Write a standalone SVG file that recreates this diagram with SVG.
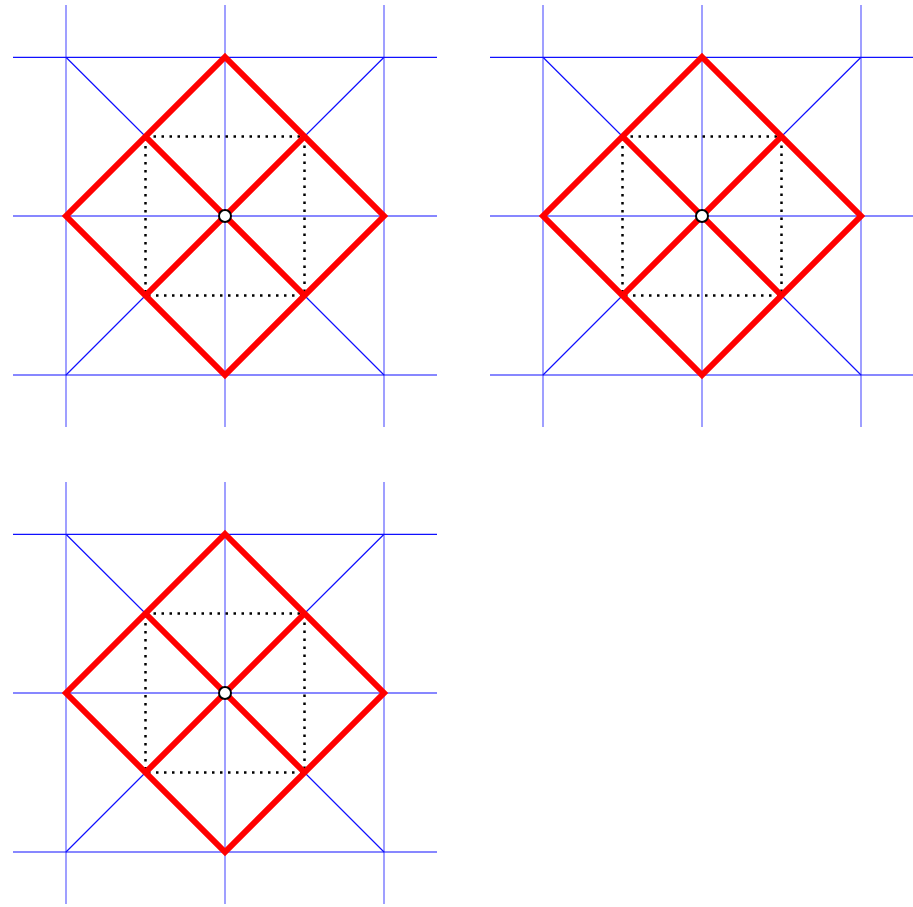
<svg xmlns="http://www.w3.org/2000/svg" width="913" height="907" viewBox="0 0 913 907">
<style>
.v{stroke:#8080ff;stroke-width:1.5;fill:none}
.h{stroke:#1010ff;stroke-width:1.2;fill:none}
.d{stroke:#1010ff;stroke-width:1.2;fill:none}
.r{stroke:#ff0000;stroke-width:6;fill:none;stroke-linejoin:miter}
.k{stroke:#000000;stroke-width:2.5;fill:none;stroke-dasharray:2.5,5.5}
.c{fill:#ffffff;stroke:#000000;stroke-width:2}
</style>
<rect width="913" height="907" fill="#ffffff"/>
<g id="panel1">
<path class="v" d="M66,5V427M225,5V427M384,5V427"/>
<path class="h" d="M13,57.3H437M13,216H437M13,375H437"/>
<path class="d" d="M66,57.3L145.5,136.5M304.5,136.5L384,57.3M66,375L145.5,295.5M304.5,295.5L384,375"/>
<polyline class="k" points="145.5,136.5 304.5,136.5 304.5,295.5 145.5,295.5 145.5,136.5"/>
<polygon class="r" points="225,57 384,216 225,375 66,216"/>
<path class="r" d="M145.5,136.5L304.5,295.5M304.5,136.5L145.5,295.5"/>
<circle class="c" cx="225" cy="216" r="6"/>
</g>
<g id="panel2" transform="translate(477,0)">
<path class="v" d="M66,5V427M225,5V427M384,5V427"/>
<path class="h" d="M13,57.3H437M13,216H437M13,375H437"/>
<path class="d" d="M66,57.3L145.5,136.5M304.5,136.5L384,57.3M66,375L145.5,295.5M304.5,295.5L384,375"/>
<polyline class="k" points="145.5,136.5 304.5,136.5 304.5,295.5 145.5,295.5 145.5,136.5"/>
<polygon class="r" points="225,57 384,216 225,375 66,216"/>
<path class="r" d="M145.5,136.5L304.5,295.5M304.5,136.5L145.5,295.5"/>
<circle class="c" cx="225" cy="216" r="6"/>
</g>
<g id="panel3" transform="translate(0,477)">
<path class="v" d="M66,5V427M225,5V427M384,5V427"/>
<path class="h" d="M13,57.3H437M13,216H437M13,375H437"/>
<path class="d" d="M66,57.3L145.5,136.5M304.5,136.5L384,57.3M66,375L145.5,295.5M304.5,295.5L384,375"/>
<polyline class="k" points="145.5,136.5 304.5,136.5 304.5,295.5 145.5,295.5 145.5,136.5"/>
<polygon class="r" points="225,57 384,216 225,375 66,216"/>
<path class="r" d="M145.5,136.5L304.5,295.5M304.5,136.5L145.5,295.5"/>
<circle class="c" cx="225" cy="216" r="6"/>
</g>
</svg>
